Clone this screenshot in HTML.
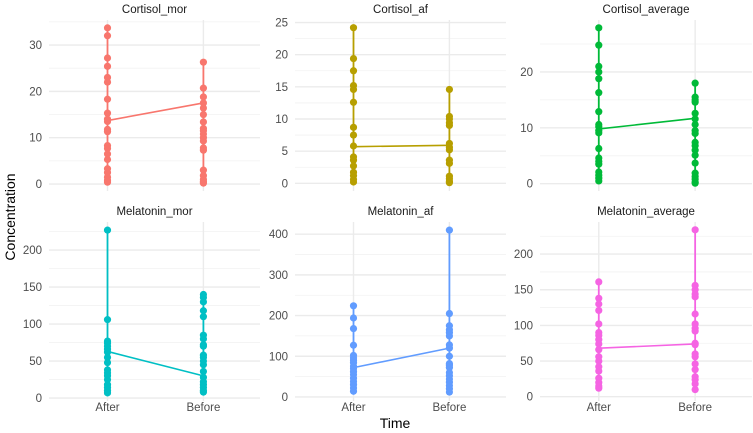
<!DOCTYPE html>
<html><head><meta charset="utf-8">
<style>
body{margin:0;background:#fff;}
svg{display:block;font-family:"Liberation Sans",Arial,sans-serif;}
</style></head>
<body>
<svg id="chart" width="753" height="433" viewBox="0 0 753 433" xmlns="http://www.w3.org/2000/svg">
<text x="15" y="217" font-size="14" fill="#000" text-anchor="middle" transform="rotate(-90 15 217)">Concentration</text>
<text x="395" y="428" font-size="14" fill="#000" text-anchor="middle">Time</text>
</svg>
<script>
const categories = ["After","Before"];
const panelNames = ["Cortisol_mor","Cortisol_af","Cortisol_average","Melatonin_mor","Melatonin_af","Melatonin_average"];
const colors = ["#F8766D","#B79F00","#00BA38","#00BFC4","#619CFF","#F564E3"];
const cortisolMorAfter = [33.7,32,27.2,25.4,23,22,18.3,15.3,14,13.5,11.8,11.3,8.3,7.7,6.5,5.3,3.3,2.5,1.5,0.8,0.4];
const cortisolMorBefore = [26.3,20.7,18.8,17.5,16.4,15,13.4,12,11.5,10.8,10,9.3,7.8,7.3,3,1.8,1,0.5,0.2];
const cortisolAfAfter = [24.2,19.4,17.5,15.2,14.6,12.6,8.7,7.5,5.8,4.1,3.6,2.7,1.7,1.2,0.6,0.2];
const cortisolAfBefore = [14.6,10.4,10,9.4,9,6.2,5.6,5.2,3.6,3.1,1.1,0.7,0.3,0.1];
const cortisolAvgAfter = [27.9,24.8,21,20,18.8,16.3,12.9,10.6,10.2,9.5,9.1,6.3,4.6,4,3.5,2.1,1.5,1,0.5];
const cortisolAvgBefore = [18,15.5,15,14.6,12.6,11.6,10.6,9.5,9,7.4,6.8,6,5.1,3.7,1.9,1.3,0.8,0.3,0.1];
const melatoninMorAfter = [227,106,77,74,70,66,62,55,48,38,34,30,25,18,14,10,7];
const melatoninMorBefore = [140,136,130,118,110,85,80,72,70,58,55,50,45,36,28,22,18,14,10,8];
const melatoninAfAfter = [224,194,168,127,102,96,90,84,76,70,62,55,46,38,30,22,14];
const melatoninAfBefore = [410,205,175,165,158,150,128,120,100,82,78,72,60,52,44,36,28,20,12];
const melatoninAvgAfter = [161,138,130,121,102,90,86,80,74,66,56,50,42,36,26,20,15,12];
const melatoninAvgBefore = [234,156,150,144,140,116,102,96,92,75,73,60,56,46,38,28,24,18,10];
const meansAfter = [13.7,5.7,9.8,63,72,68];
const meansBefore = [17.5,5.9,11.7,30,120,74];
const yTicks = [[0,10,20,30],[0,5,10,15,20,25],[0,10,20],[0,50,100,150,200],[0,100,200,300,400],[0,50,100,150,200]];
const yDomains = [[-1.5,35.4],[-1.2,25.4],[-1.3,29.3],[-4,238],[-10,430],[-6,245]];

const seriesAfter=[cortisolMorAfter,cortisolAfAfter,cortisolAvgAfter,melatoninMorAfter,melatoninAfAfter,melatoninAvgAfter];
const seriesBefore=[cortisolMorBefore,cortisolAfBefore,cortisolAvgBefore,melatoninMorBefore,melatoninAfBefore,melatoninAvgBefore];

const NS="http://www.w3.org/2000/svg";
const svg=document.getElementById('chart');
function mk(tag,attrs,parent,text){const e=document.createElementNS(NS,tag);for(const k in attrs)e.setAttribute(k,attrs[k]);if(text!==undefined)e.textContent=text;(parent||svg).appendChild(e);return e;}
// layout: [left,right], [top,bottom]
const colX=[[49,260],[295,506],[540,752]];
const rowY=[[20,191],[222,401]];
for(let p=0;p<6;p++){
  const cx=colX[p%3], ry=rowY[Math.floor(p/3)];
  const dom=yDomains[p];
  const y=v=>ry[1]-(v-dom[0])/(dom[1]-dom[0])*(ry[1]-ry[0]);
  const xw=cx[1]-cx[0];
  const x=i=>cx[0]+xw*(0.5+i*1.0)/2.2+xw*0.05;
  const g=mk('g',{},svg);
  
  
  const t=yTicks[p];const step=t[1]-t[0];
  // minor grid
  for(let v=t[0]-step/2;v<=dom[1];v+=step){if(v<dom[0])continue;const l=mk('line',{x1:cx[0],x2:cx[1],y1:y(v),y2:y(v),stroke:'#f2f2f2','stroke-width':0.8},g);}
  // major grid + labels
  t.forEach(v=>{const l=mk('line',{x1:cx[0],x2:cx[1],y1:y(v),y2:y(v),stroke:'#ebebeb','stroke-width':1.4},g);
    const tx=mk('text',{x:cx[0]-7,y:y(v)+4,'font-size':11.5,fill:'#4d4d4d','text-anchor':'end'},g,String(v));});
  categories.forEach((c,i)=>{const l=mk('line',{x1:x(i),x2:x(i),y1:ry[0],y2:ry[1],stroke:'#ebebeb','stroke-width':1.4},g);
    if(p>=3){const tx=mk('text',{x:x(i),y:411,'font-size':11.5,fill:'#4d4d4d','text-anchor':'middle'},g,c);}});
  const tt=mk('text',{x:(cx[0]+cx[1])/2,y:ry[0]-7,'font-size':11.5,fill:'#1a1a1a','text-anchor':'middle'},g,panelNames[p]);
  
  [seriesAfter[p],seriesBefore[p]].forEach((arr,i)=>{
    const mx=Math.max(...arr),mn=Math.min(...arr);
    const l=mk('line',{x1:x(i),x2:x(i),y1:y(mx),y2:y(mn),stroke:colors[p],'stroke-width':1.8},g);
    
  });
  const ml=mk('line',{x1:x(0),x2:x(1),y1:y(meansAfter[p]),y2:y(meansBefore[p]),stroke:colors[p],'stroke-width':1.6},g);
  
  [seriesAfter[p],seriesBefore[p]].forEach((arr,i)=>{arr.forEach(v=>{
    const c=mk('circle',{cx:x(i),cy:y(v),r:3.6,fill:colors[p]},g);
    
  });});
}
</script>
</body></html>
